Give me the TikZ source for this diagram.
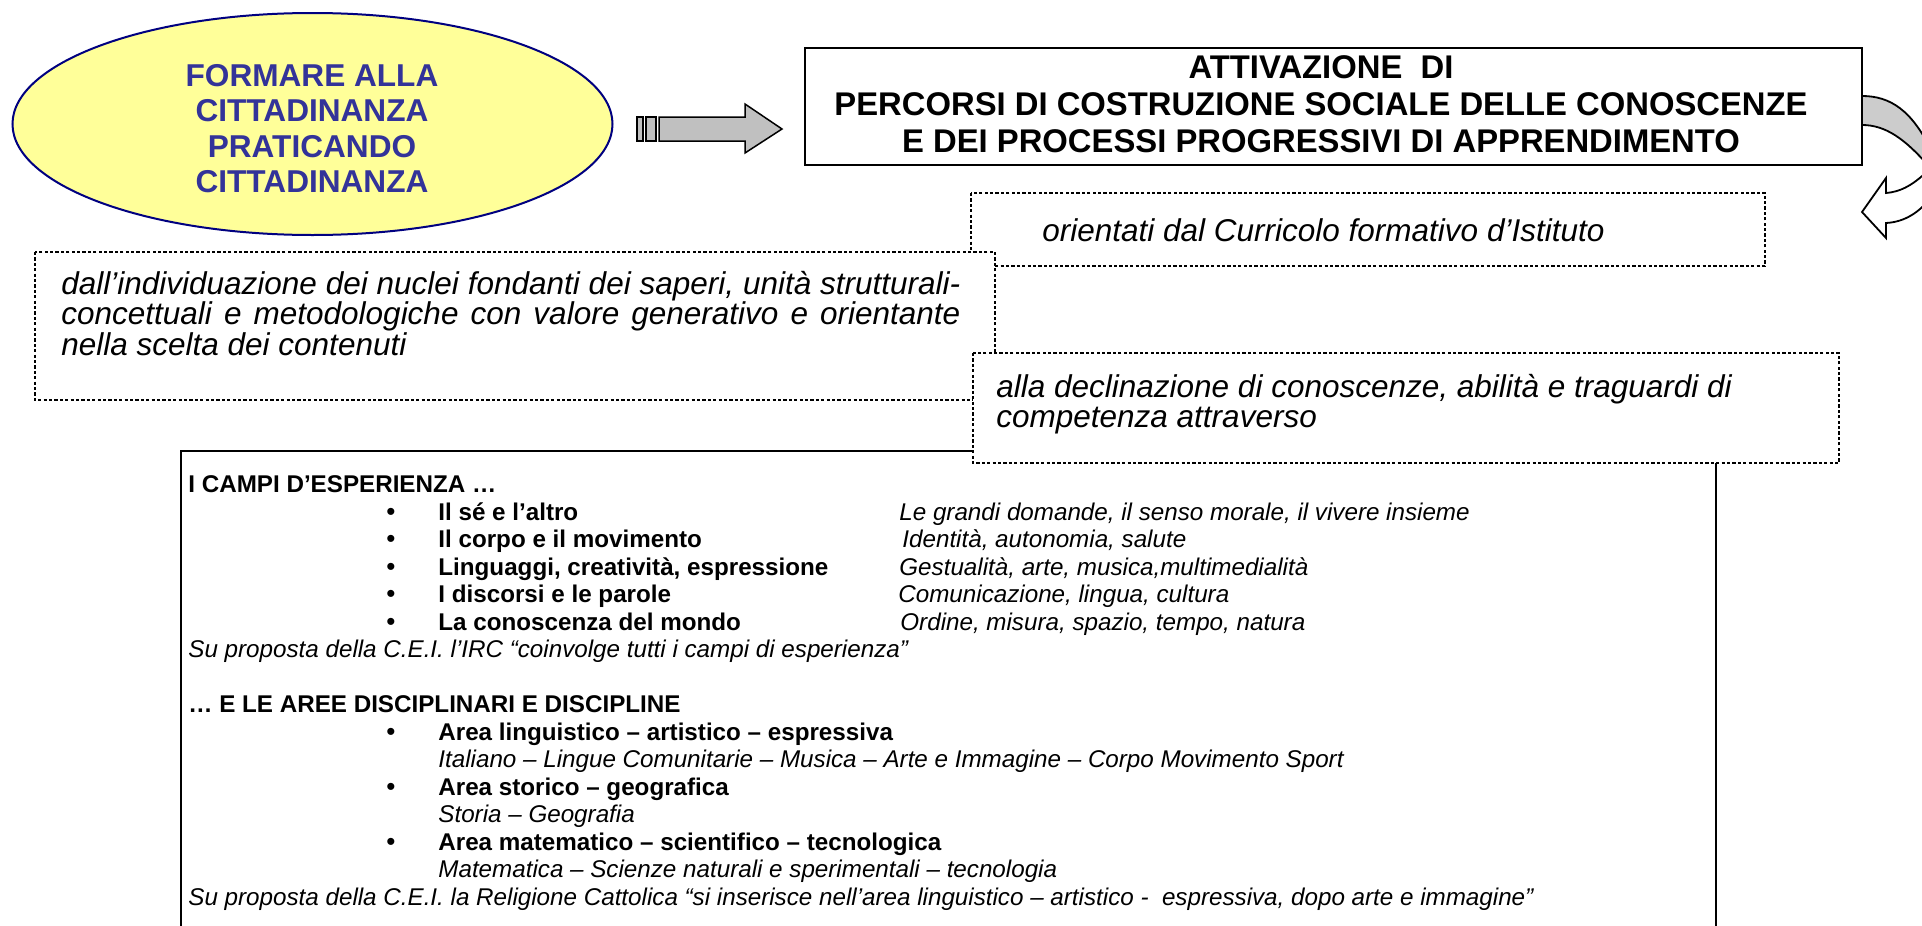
\documentclass[tikz,border=0pt]{standalone}
\usepackage{fontspec}
\setmainfont{Liberation Sans}
\usetikzlibrary{shapes.geometric}
\definecolor{ellfill}{HTML}{FFFF99}
\definecolor{ellline}{HTML}{000080}
\definecolor{etext}{HTML}{333399}
\definecolor{agray}{HTML}{C0C0C0}
\definecolor{cgray}{HTML}{CCCCCC}
\begin{document}
\begin{tikzpicture}[x=0.5pt,y=-0.5pt,
  dotbox/.style={draw=black, fill=white, line width=1.3pt, dash pattern=on 1.6pt off 1.1pt},
  solidline/.style={draw=black, line width=1pt},
  etxt/.style={anchor=base, inner sep=0pt, text=etext, font=\fontsize{15.8}{17.75}\selectfont\bfseries},
  ttxt/.style={anchor=base, inner sep=0pt, font=\fontsize{16.4}{18.5}\selectfont\bfseries},
  itxt/.style={anchor=base west, inner sep=0pt, font=\fontsize{15.75}{15.25}\selectfont\itshape},
  btxt/.style={anchor=base west, inner sep=0pt, font=\fontsize{12.1}{13.75}\selectfont\bfseries},
  ltxt/.style={anchor=base west, inner sep=0pt, font=\fontsize{12.1}{13.75}\selectfont\itshape},
  bul/.style={anchor=base west, inner sep=0pt, font=\fontsize{13}{13.75}\selectfont}]
\useasboundingbox (0,0) rectangle (1922,926);
\clip (0,0) rectangle (1922,926);
\fill[white] (0,0) rectangle (1922,926);

% ellipse
\node[ellipse, draw=ellline, fill=ellfill, line width=1pt, minimum width=300pt, minimum height=111pt, inner sep=0pt] (ell) at (312.5,124) {};
\node[etxt] (e1) at (312,86) {FORMARE ALLA};
\node[etxt] (e2) at (312,121.5) {CITTADINANZA};
\node[etxt] (e3) at (312,157) {PRATICANDO};
\node[etxt] (e4) at (312,192.5) {CITTADINANZA};

% block arrow
\draw[fill=agray, line width=0.75pt] (637,117) rectangle (643,141);
\draw[fill=agray, line width=0.75pt] (646,117) rectangle (656,141);
\draw[fill=agray, line width=0.75pt] (659,117) -- (745,117) -- (745,104) -- (782,129) -- (745,153) -- (745,141) -- (659,141) -- cycle;

% top box
\draw[solidline, fill=white] (805,48) rectangle (1862,165);
\node[ttxt] (t1) at (1321,78) {ATTIVAZIONE\ \ DI};
\node[ttxt] (t2) at (1321,115) {PERCORSI DI COSTRUZIONE SOCIALE DELLE CONOSCENZE};
\node[ttxt] (t3) at (1321,152) {E DEI PROCESSI PROGRESSIVI DI APPRENDIMENTO};

% curved arrow
\draw[fill=cgray, line width=0.9pt] (1862,96) .. controls (1890,96) and (1912,110) .. (1932,152) -- (1932,170) .. controls (1905,138) and (1885,125) .. (1862,125) -- cycle;
\draw[fill=white, line width=0.9pt] (1932,166) .. controls (1915,185) and (1900,192) .. (1886,193) -- (1886,178) -- (1862,212) -- (1886,238) -- (1886,223) .. controls (1905,222) and (1920,212) .. (1932,196) -- cycle;

% orientati box
\draw[dotbox] (971,193) rectangle (1765,266);
\node[itxt] (o1) at (1042,241) {orientati dal Curricolo formativo d’Istituto};

% dall' box
\draw[dotbox] (35,252) rectangle (995,400);
\node[itxt] (d1) at (61,294) {\makebox[449.5pt][s]{dall’individuazione dei nuclei fondanti dei saperi, unità strutturali-}};
\node[itxt] (d2) at (61,324.5) {\makebox[449.5pt][s]{concettuali e metodologiche con valore generativo e orientante}};
\node[itxt] (d3) at (61,355) {nella scelta dei contenuti};

% big box
\draw[solidline] (181,1000) -- (181,451) -- (1716,451) -- (1716,1000);
\node[btxt] (h1) at (188,492.5) {I CAMPI D’ESPERIENZA …};
\node[bul] (b1) at (386,520) {•};
\node[btxt] (c1) at (438,520) {Il sé e l’altro};
\node[ltxt] (c1d) at (899,520) {Le grandi domande, il senso morale, il vivere insieme};
\node[bul] (b2) at (386,547.5) {•};
\node[btxt] (c2) at (438,547.5) {Il corpo e il movimento};
\node[ltxt] (c2d) at (902,547.5) {Identità, autonomia, salute};
\node[bul] (b3) at (386,575) {•};
\node[btxt] (c3) at (438,575) {Linguaggi, creatività, espressione};
\node[ltxt] (c3d) at (899,575) {Gestualità, arte, musica,multimedialità};
\node[bul] (b4) at (386,602.5) {•};
\node[btxt] (c4) at (438,602.5) {I discorsi e le parole};
\node[ltxt] (c4d) at (898,602.5) {Comunicazione, lingua, cultura};
\node[bul] (b5) at (386,630) {•};
\node[btxt] (c5) at (438,630) {La conoscenza del mondo};
\node[ltxt] (c5d) at (900,630) {Ordine, misura, spazio, tempo, natura};
\node[ltxt] (s1) at (188,657.5) {Su proposta della C.E.I. l’IRC “coinvolge tutti i campi di esperienza”};
\node[btxt] (h2) at (188,712.5) {… E LE AREE DISCIPLINARI E DISCIPLINE};
\node[bul] (b6) at (386,740) {•};
\node[btxt] (a1) at (438,740) {Area linguistico – artistico – espressiva};
\node[ltxt] (a1d) at (438,767.5) {Italiano – Lingue Comunitarie – Musica – Arte e Immagine – Corpo Movimento Sport};
\node[bul] (b7) at (386,795) {•};
\node[btxt] (a2) at (438,795) {Area storico – geografica};
\node[ltxt] (a2d) at (438,822.5) {Storia – Geografia};
\node[bul] (b8) at (386,850) {•};
\node[btxt] (a3) at (438,850) {Area matematico – scientifico – tecnologica};
\node[ltxt] (a3d) at (438,877.5) {Matematica – Scienze naturali e sperimentali – tecnologia};
\node[ltxt] (s2) at (188,905) {Su proposta della C.E.I. la Religione Cattolica “si inserisce nell’area linguistico – artistico -\ \ espressiva, dopo arte e immagine”};

% alla box
\draw[dotbox] (973,353) rectangle (1839,463);
\node[itxt] (al1) at (996,397) {alla declinazione di conoscenze, abilità e traguardi di};
\node[itxt] (al2) at (996,427) {competenza attraverso};
\end{tikzpicture}
\end{document}
